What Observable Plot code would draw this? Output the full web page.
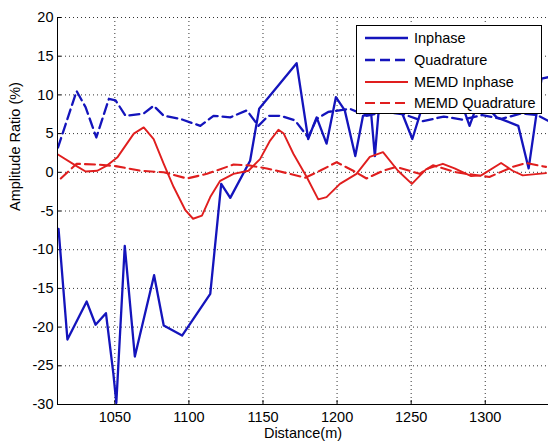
<!DOCTYPE html>
<html>
<head>
<meta charset="utf-8">
<script src="https://cdn.jsdelivr.net/npm/d3@7"></script>
<script src="https://cdn.jsdelivr.net/npm/@observablehq/plot@0.6"></script>
<style>
  html, body { margin: 0; padding: 0; background: #fff; }
  #wrap { position: relative; width: 548px; height: 445px; overflow: hidden; font-family: "Liberation Sans", Arial, sans-serif; }
  #legend { position: absolute; left: 356px; top: 25px; width: 186px; height: 89px; background: #fff; border: 1px solid #000; box-sizing: border-box; }
  .entry { position: absolute; left: 0; height: 20px; width: 186px; }
  .entry svg { position: absolute; left: 8px; top: 0; }
  .entry span { position: absolute; left: 57px; top: 1px; font-size: 14.5px; line-height: 18px; color: #000; white-space: nowrap; }
</style>
</head>
<body>
<div id="wrap"><div id="chart"></div><div id="legend"></div></div>
<script>
// ---- data ----
const inphaseX = [1012, 1018, 1031, 1037, 1044, 1049, 1051, 1056.7, 1063.5, 1076.5, 1083, 1095.4, 1114.4, 1121.8, 1127.9, 1141.3, 1147.4, 1172.7, 1180.5, 1186.2, 1192.9, 1199.2, 1205.2, 1212.3, 1217.5, 1223, 1225.5, 1228, 1238, 1250.8, 1260, 1275, 1283, 1289.4, 1296, 1307.7, 1322.3, 1329.3, 1338, 1343];
const inphaseY = [-7.3, -21.6, -16.7, -19.7, -18.2, -26, -29.8, -9.5, -23.8, -13.3, -19.8, -21.1, -15.7, -1.5, -3.3, 1.5, 8.2, 14.1, 4.3, 7.1, 3.7, 9.7, 8.0, 2.1, 7.3, 7.6, 2.1, 7.8, 10.5, 4.3, 10, 9, 9.5, 6.0, 9.5, 7.1, 6.0, 0.5, 12.1, 12.3];

const quadX = [1011.6, 1024.2, 1030.3, 1037.5, 1046, 1050.5, 1057.2, 1069.5, 1076.2, 1083, 1094.2, 1107.7, 1116.6, 1127.9, 1139.1, 1146.9, 1153.6, 1162, 1171.6, 1180.5, 1186.2, 1194, 1208.7, 1219.9, 1232, 1245, 1258, 1272, 1285, 1298, 1311, 1324, 1335, 1343];
const quadY = [3.2, 10.5, 8.4, 4.5, 9.5, 9.3, 7.3, 7.6, 8.6, 7.3, 6.9, 6.0, 7.3, 7.1, 8.0, 6.0, 7.3, 7.3, 6.7, 4.5, 6.9, 7.8, 8.2, 7.3, 7.8, 7.5, 6.6, 7.2, 6.8, 7.4, 6.9, 7.6, 7.4, 6.6];

const memdInX = [1011.6, 1024.2, 1030.3, 1038.2, 1044.9, 1051.6, 1062.8, 1069.5, 1076.2, 1083, 1089.7, 1097.6, 1102.8, 1108.8, 1114.4, 1121.1, 1130.1, 1140.2, 1148, 1154.8, 1160.4, 1164, 1170.5, 1179.5, 1187.3, 1192.9, 1201.9, 1213.1, 1222.1, 1231, 1241.1, 1250.5, 1260.2, 1271.4, 1279.3, 1290.5, 1297.3, 1310.7, 1318.5, 1325.3, 1341];
const memdInY = [2.3, 0.8, 0.1, 0.2, 0.9, 1.9, 5.0, 5.8, 4.3, 1.1, -1.9, -4.9, -6.0, -5.6, -3.2, -1.1, -0.2, 0.2, 1.7, 4.1, 5.5, 5.0, 2.4, -0.6, -3.5, -3.2, -1.5, -0.2, 2.0, 2.6, 0.2, -1.5, 0.4, 1.1, 0.5, -0.5, -0.4, 1.2, 0.2, -0.4, -0.1];

const memdQuX = [1013.5, 1024.2, 1038.2, 1050.5, 1067.3, 1083, 1098.7, 1112.2, 1130.1, 1140.2, 1152.6, 1168.2, 1178.5, 1188.4, 1199.7, 1210.9, 1219.9, 1231, 1240, 1255.7, 1264.7, 1280.4, 1302.8, 1318.5, 1327.5, 1341];
const memdQuY = [-0.8, 1.1, 1.0, 0.8, 0.2, 0.0, -0.8, -0.2, 1.0, 0.9, 0.5, -0.2, -0.7, 0.2, 1.3, 0.2, -0.8, 0.2, 0.7, -0.2, 0.9, 0.0, -0.6, 0.7, 1.2, 0.7];

const xTicks = [1050, 1100, 1150, 1200, 1250, 1300];
const yTicks = [-30, -25, -20, -15, -10, -5, 0, 5, 10, 15, 20];
const seriesNames = ["Inphase", "Quadrature", "MEMD Inphase", "MEMD Quadrature"];
const xLabel = "Distance(m)";
const yLabel = "Amplitude Ratio (%)";

// ---- styles ----
const BLUE = "#1414bc";
const RED = "#e01e1e";
const seriesStyle = [
  {stroke: BLUE, strokeWidth: 2.3, dash: null},
  {stroke: BLUE, strokeWidth: 2.3, dash: "10,5"},
  {stroke: RED, strokeWidth: 1.9, dash: null},
  {stroke: RED, strokeWidth: 2.1, dash: "10,5"}
];
const seriesData = [[inphaseX, inphaseY], [quadX, quadY], [memdInX, memdInY], [memdQuX, memdQuY]]
  .map(([xs, ys]) => xs.map((x, i) => ({x, y: ys[i]})));

const xDomain = [1011.3, 1342.7];
const yDomain = [-30, 20];
const W = 548, H = 445, mL = 57, mR = 0, mT = 17, mB = 41;
const plotW = W - mL - mR, plotH = H - mT - mB;

const chart = Plot.plot({
  width: W, height: H,
  marginLeft: mL, marginRight: mR, marginTop: mT, marginBottom: mB,
  x: {domain: xDomain, axis: null},
  y: {domain: yDomain, axis: null},
  style: {fontFamily: '"Liberation Sans", Arial, sans-serif', fontSize: "14.5px", background: "#fff", color: "#000", overflow: "visible"},
  marks: [
    Plot.ruleX(xTicks, {x: d => d, stroke: "#000", strokeOpacity: 0.8, strokeWidth: 1, strokeDasharray: "1,3"}),
    Plot.ruleY(yTicks, {y: d => d, stroke: "#000", strokeOpacity: 0.8, strokeWidth: 1, strokeDasharray: "1,3"}),
    Plot.tickX(xTicks, {x: d => d, stroke: "#000", insetTop: plotH - 4}),
    Plot.tickY(yTicks, {y: d => d, stroke: "#000", insetRight: plotW - 4}),
    ...seriesData.map((data, k) => Plot.line(data, {
      x: "x", y: "y", stroke: seriesStyle[k].stroke, strokeWidth: seriesStyle[k].strokeWidth,
      strokeDasharray: seriesStyle[k].dash, strokeLinejoin: "round", clip: true
    })),
    Plot.ruleX([xDomain[0]], {x: d => d, stroke: "#000", strokeWidth: 1}),
    Plot.ruleY([yDomain[0]], {y: d => d, stroke: "#000", strokeWidth: 1}),
    Plot.axisX(xTicks, {tickSize: 0, tickPadding: 7, label: null, fontSize: 14.5, tickFormat: d => String(d)}),
    Plot.axisY(yTicks, {tickSize: 0, tickPadding: 4, label: null, fontSize: 14.5, tickFormat: d => String(d)}),
    Plot.text([xLabel], {text: d => d, frameAnchor: "bottom", dy: 33, fontSize: 14.5}),
    Plot.text([yLabel], {text: d => d, frameAnchor: "left", dx: -42, rotate: -90, fontSize: 14.5})
  ]
});
document.getElementById("chart").appendChild(chart);

// ---- legend ----
const legend = document.getElementById("legend");
seriesNames.forEach((name, k) => {
  const e = document.createElement("div");
  e.className = "entry";
  e.style.top = (2 + k * 21.8) + "px";
  const s = seriesStyle[k];
  e.innerHTML = `<svg width="44" height="20"><line x1="0" x2="43" y1="10" y2="10" stroke="${s.stroke}" stroke-width="${s.strokeWidth}" ${s.dash ? `stroke-dasharray="${s.dash}"` : ""}/></svg><span>${name}</span>`;
  legend.appendChild(e);
});
</script>
</body>
</html>
